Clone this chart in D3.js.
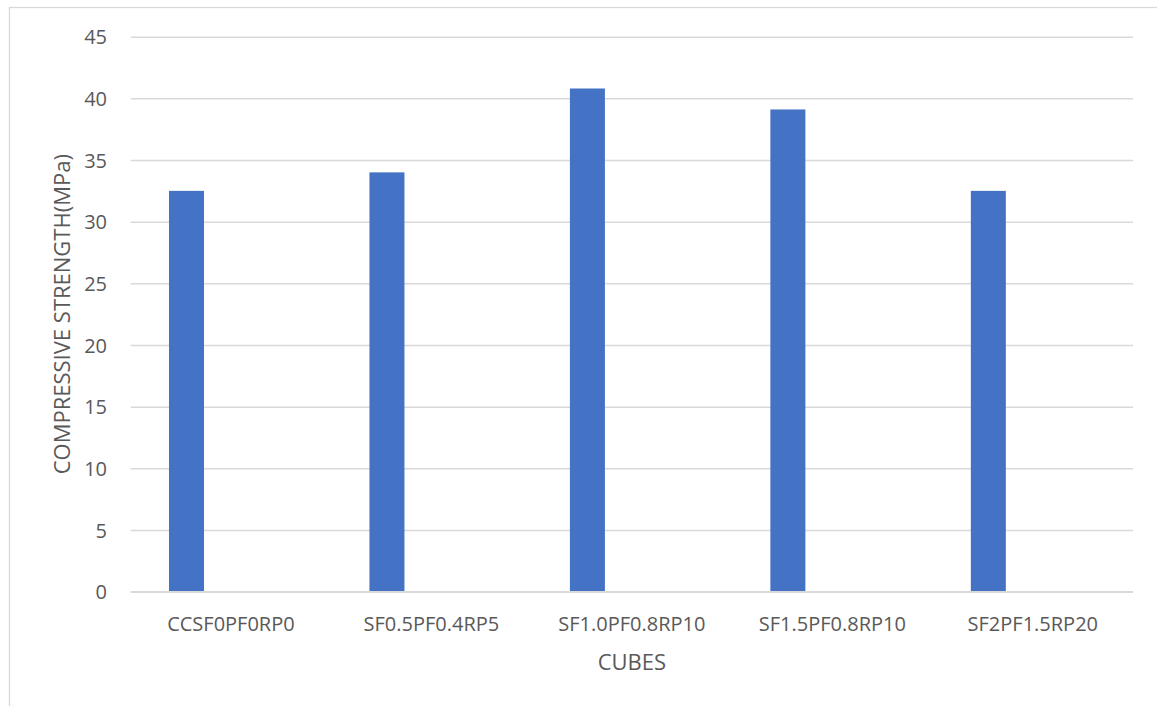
<!DOCTYPE html>
<html>
<head>
<meta charset="utf-8">
<script src="https://cdn.jsdelivr.net/npm/d3@7"></script>
<style>
  html, body { margin: 0; padding: 0; background: #ffffff; }
  svg { display: block; }
  text { font-family: "Open Sans", "Noto Sans", sans-serif; fill: #595959; }
</style>
</head>
<body>
<svg id="chart" width="1157" height="706"></svg>
<script>
// Cube mixes and their compressive strength (MPa)
const categories = ["CCSF0PF0RP0", "SF0.5PF0.4RP5", "SF1.0PF0.8RP10", "SF1.5PF0.8RP10", "SF2PF1.5RP20"];
const strength = [32.5, 34.0, 40.8, 39.1, 32.5];
const yTicks = [0, 5, 10, 15, 20, 25, 30, 35, 40, 45];
const xTitle = "CUBES";
const yTitle = "COMPRESSIVE STRENGTH(MPa)";

const svg = d3.select("#chart");
const W = 1157, H = 706;

// outer chart-area frame
svg.append("rect")
  .attr("x", 9.5).attr("y", 7.5)
  .attr("width", W + 10).attr("height", H + 10)
  .attr("fill", "#ffffff")
  .attr("stroke", "#d9d9d9").attr("stroke-width", 1.3);

const plot = { left: 130.7, right: 1133, top: 36.7, bottom: 591.7 };

const x = d3.scaleBand()
  .domain(categories)
  .range([plot.left, plot.right])
  .paddingInner(0).paddingOuter(0);

const y = d3.scaleLinear()
  .domain([0, 45])
  .range([plot.bottom, plot.top]);

// horizontal gridlines + tick labels
const yAxis = d3.axisLeft(y)
  .tickValues(yTicks)
  .tickSize(-(plot.right - plot.left))
  .tickPadding(0)
  .tickFormat(d3.format("d"));

const gy = svg.append("g")
  .attr("transform", `translate(${plot.left},0)`)
  .call(yAxis);
gy.select(".domain").remove();
gy.selectAll(".tick line")
  .attr("stroke", "#d9d9d9")
  .attr("stroke-width", 1.5);
gy.selectAll(".tick text")
  .attr("x", 107 - plot.left)
  .attr("dy", "0.35em")
  .style("font-size", "20px")
  .style("fill", "#595959")
  .attr("text-anchor", "end");

// bars sit left of each category's centre, as in a clustered layout
const barOffset = 0.191, barFrac = 0.1746;
svg.append("g")
  .selectAll("rect")
  .data(categories.map((c, i) => ({ c, v: strength[i] })))
  .join("rect")
  .attr("x", d => x(d.c) + x.bandwidth() * barOffset)
  .attr("width", x.bandwidth() * barFrac)
  .attr("y", d => y(d.v))
  .attr("height", d => y(0) - y(d.v))
  .attr("fill", "#4472c4");

// baseline drawn over bar bottoms
svg.append("line")
  .attr("x1", plot.left).attr("x2", plot.right)
  .attr("y1", y(0)).attr("y2", y(0))
  .attr("stroke", "#d9d9d9").attr("stroke-width", 1.5);

// category labels
const xAxis = d3.axisBottom(x).tickSize(0).tickPadding(0);
const gx = svg.append("g")
  .attr("transform", `translate(0,${plot.bottom})`)
  .call(xAxis);
gx.select(".domain").remove();
gx.selectAll(".tick text")
  .attr("y", 631.5 - plot.bottom)
  .attr("dy", 0)
  .style("font-size", "20px")
  .style("fill", "#595959");

// axis titles
svg.append("text")
  .attr("x", (plot.left + plot.right) / 2)
  .attr("y", 670)
  .attr("text-anchor", "middle")
  .style("font-size", "22px")
  .text(xTitle);

svg.append("text")
  .attr("transform", `translate(70,${(plot.top + plot.bottom) / 2}) rotate(-90)`)
  .attr("text-anchor", "middle")
  .style("font-size", "22px")
  .text(yTitle);
</script>
</body>
</html>
